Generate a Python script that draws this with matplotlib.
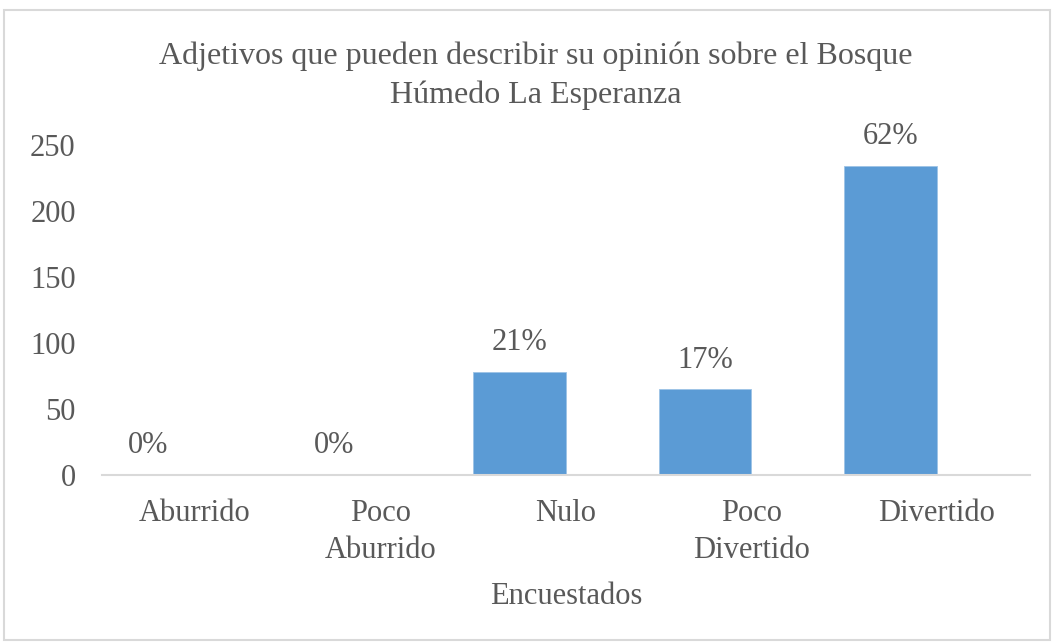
import matplotlib.pyplot as plt
from matplotlib.patches import Rectangle

plt.rcParams['font.family'] = ['Liberation Serif', 'DejaVu Serif']

categories = ['Aburrido', 'Poco\nAburrido', 'Nulo', 'Poco\nDivertido', 'Divertido']
values = [0, 0, 78, 65, 234]
labels = ['0%', '0%', '21%', '17%', '62%']

txt = '#595959'
grid_c = '#D9D9D9'
fs = 22

fig = plt.figure(figsize=(10.54, 6.43), dpi=100)
ax = fig.add_axes([0.0968, 0.2613, 0.8802, 0.5132])

x = list(range(len(categories)))
bars = ax.bar([i - 0.25 for i in x], values, width=0.5, color='#5B9BD5',
              edgecolor='#9DC3E6', linewidth=0.6)

for b, lab in zip(bars, labels):
    ax.annotate(lab, (b.get_x() + b.get_width() / 2, b.get_height()),
                xytext=(0, 21), textcoords='offset points',
                ha='center', va='center', fontsize=fs, color=txt)

ax.set_xlim(-0.5, 4.5)
ax.set_ylim(0, 250)
ax.set_yticks([0, 50, 100, 150, 200, 250])
ax.set_xticks(x)
ax.set_xticklabels(categories, fontsize=fs, color=txt, linespacing=1.4)
ax.tick_params(axis='y', labelsize=fs, labelcolor=txt, length=0, pad=19)
ax.tick_params(axis='x', length=0, pad=17)

for s in ['left', 'right', 'top']:
    ax.spines[s].set_visible(False)
ax.spines['bottom'].set_color(grid_c)
ax.spines['bottom'].set_linewidth(1.5)

ax.set_xlabel('Encuestados', fontsize=fs, color=txt, labelpad=12)
fig.text(0.508, 0.935, 'Adjetivos que pueden describir su opinión sobre el Bosque\nHúmedo La Esperanza',
         ha='center', va='top', fontsize=23, color=txt, linespacing=1.4)

fig.patches.append(Rectangle((0.004, 0.005), 0.992, 0.98, transform=fig.transFigure,
                             fill=False, edgecolor=grid_c, linewidth=1.5))

fig.savefig('out.png', dpi=100)
